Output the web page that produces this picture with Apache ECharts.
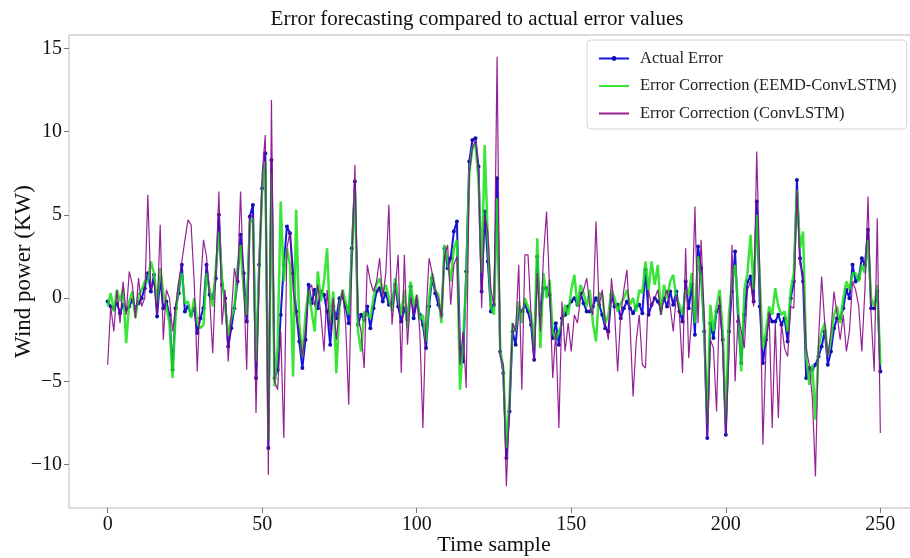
<!DOCTYPE html>
<html>
<head>
<meta charset="utf-8">
<script src="https://cdn.jsdelivr.net/npm/echarts@6/dist/echarts.min.js"></script>
<style>html,body{margin:0;padding:0;background:#fff}#c{width:910px;height:558px}</style>
</head>
<body>
<div id="c"></div>
<script>
var xTicks = [0, 50, 100, 150, 200, 250];
var yTicks = [-10, -5, 0, 5, 10, 15];

var actualError = [
-0.2,-0.5,-0.6,-0.3,-0.9,-0.4,-0.7,-0.5,-0.1,-0.6,
-0.3,0.0,0.6,1.5,0.4,1.4,-1.1,1.2,-0.6,-0.2,
-1.0,-4.3,-0.6,0.3,2.0,-0.8,-0.5,-1.0,-0.6,-2.1,
-1.2,-0.6,2.0,0.2,0.0,1.2,5.0,0.8,0.0,-2.9,
-1.8,-0.6,1.0,3.8,1.5,-1.4,4.9,5.6,-4.8,2.0,
6.6,8.7,-9.0,8.3,-4.8,-4.3,-1.0,2.0,4.3,3.9,
1.5,-0.8,-2.6,-4.2,-2.5,0.8,-0.3,0.5,-0.6,0.4,
0.2,-0.8,-2.8,-0.5,-1.2,0.0,0.1,-0.5,-1.5,3.0,
7.0,-1.6,-1.0,-1.3,-0.5,-1.8,-0.6,0.4,0.6,-0.2,
0.3,-0.4,-0.3,0.8,-0.5,-1.4,-0.6,-1.3,0.7,-1.2,
-0.2,-1.0,-1.6,-3.0,-0.5,1.2,0.3,-0.4,-1.0,3.0,
1.8,2.4,4.0,4.6,-3.0,-3.8,1.6,8.2,9.5,9.6,
7.9,0.4,5.2,2.2,-0.8,-0.4,7.2,-3.2,-4.5,-9.6,
-6.8,-2.0,-2.8,-0.6,-0.8,-0.4,-0.8,-1.6,-3.7,2.5,
-1.0,0.6,0.6,0.2,-2.4,-1.5,-2.8,-1.2,-1.0,-0.5,
-0.2,0.0,-0.4,0.3,-0.3,-0.8,-0.8,-0.5,0.0,-0.4,
-1.0,-1.8,-2.0,0.2,-0.5,-0.4,-1.2,-0.6,-0.2,-0.6,
-0.9,-0.5,-0.4,-0.9,1.7,-1.0,-0.4,0.0,-0.2,-0.6,
0.0,-0.5,0.4,-0.4,0.4,-0.8,-1.4,1.0,-0.6,0.8,
-2.2,3.1,1.8,-2.0,-8.4,-1.5,-2.4,-0.8,-0.5,-2.5,
-8.2,-2.0,0.4,2.8,-1.4,-3.9,-1.0,1.0,1.3,-0.2,
5.8,-0.5,-3.9,-2.5,-1.0,-1.4,-1.4,-1.0,-1.6,-1.2,
-2.6,0.0,1.0,7.1,2.4,1.0,-4.8,-4.2,-4.3,-4.0,
-3.5,-2.9,-2.0,-4.0,-3.2,-1.8,-1.2,-1.2,-0.6,0.5,
0.0,2.0,1.0,1.2,2.4,2.0,4.1,-0.6,-0.6,0.4,
-4.4];

var eemdConvLSTM = [
-0.5,0.3,-0.8,0.5,-0.2,0.6,-2.7,-0.2,0.4,-1.2,
0.2,0.5,1.0,1.0,2.2,1.5,-0.3,1.8,0.3,-0.5,
-1.5,-4.8,-1.0,0.8,1.5,-0.3,-0.2,-1.2,0.0,-1.5,
-1.8,-1.6,1.5,0.5,-0.5,1.8,4.0,1.2,-0.5,-2.2,
-1.2,-0.6,1.8,3.2,0.5,-1.0,4.5,4.8,-3.8,1.5,
6.6,8.2,-8.5,7.5,-5.3,-3.0,5.8,1.0,3.0,2.0,
-4.7,5.3,-1.5,-3.5,-1.0,0.5,-0.8,-2.0,1.6,-0.2,
1.0,3.0,-1.5,0.4,-4.5,-0.5,0.5,-0.2,-1.0,2.5,
6.5,-2.0,-3.2,-0.8,-1.0,-1.2,0.0,0.8,1.2,0.3,
0.8,0.0,-0.8,1.2,0.0,-1.0,0.5,-1.8,1.0,-0.5,
0.2,-1.3,-1.0,-2.6,0.0,1.5,0.5,0.2,-1.5,3.2,
2.2,1.0,3.0,3.5,-5.5,-2.5,1.0,7.5,9.0,9.3,
7.0,1.5,9.2,3.5,-0.5,-1.0,6.0,-3.0,-4.2,-9.0,
-6.0,-1.5,-2.0,-0.2,-1.5,0.0,-0.5,-1.0,-3.0,3.6,
-3.0,1.5,0.0,1.1,-2.0,-2.5,-2.0,-1.5,-0.4,-1.0,
0.5,1.4,-0.5,0.8,0.3,-0.5,0.5,-1.5,-2.6,0.3,
0.2,-1.5,-1.0,0.5,0.0,-0.8,-0.3,0.0,0.5,-0.4,
0.0,-0.8,0.5,0.3,2.2,0.5,2.2,0.8,2.0,-1.0,
0.8,0.0,1.0,1.4,0.0,-0.4,-1.0,0.5,0.2,1.5,
-1.5,2.5,1.2,-1.5,-7.5,-0.4,-2.0,-0.5,0.5,-2.0,
-7.5,-1.0,1.0,2.0,-0.5,-4.4,0.5,1.5,3.8,0.5,
5.0,1.0,-3.0,-2.0,-0.5,-1.0,0.6,-0.5,-1.0,-0.8,
-2.0,0.5,1.5,6.5,3.0,4.0,-3.5,-5.2,-4.0,-7.3,
-3.0,-2.0,-1.5,-3.5,-2.5,-1.0,-0.5,-1.5,0.0,1.0,
0.5,1.5,1.5,1.0,2.0,1.5,3.5,0.0,-0.5,0.8,
-4.0];

var convLSTM = [
-4.0,-0.5,-2.0,0.5,-1.5,1.0,-1.0,1.6,0.8,-1.2,
1.2,-0.5,0.0,6.2,0.5,1.0,-1.0,4.4,-2.5,0.5,
0.0,-2.0,-0.5,1.0,2.2,3.5,4.7,4.4,1.0,-4.4,
0.5,3.5,2.5,0.0,-3.3,1.5,6.4,-1.6,0.5,-3.8,
-1.0,1.8,0.8,6.4,1.0,-4.3,4.9,5.0,-6.9,1.0,
7.5,9.8,-10.6,11.9,-5.0,-5.5,-2.0,-8.4,3.0,4.0,
0.5,-1.0,-2.0,-3.5,-2.0,0.5,0.8,-0.5,0.8,-1.0,
-3.2,0.5,-2.0,0.0,-2.5,-0.5,0.5,-1.5,-6.4,2.0,
8.0,-1.0,-2.0,-4.2,2.0,1.0,0.4,1.0,2.4,0.0,
1.5,5.6,-1.6,0.5,2.6,-4.5,2.6,-2.8,0.0,-1.0,
0.2,-2.0,-7.8,-1.0,2.4,1.5,0.5,0.0,-1.2,2.5,
3.2,-0.4,2.0,2.5,-4.0,-2.0,-5.4,7.5,9.0,9.5,
7.5,-0.6,5.0,4.0,0.5,-0.5,14.5,-3.5,-4.0,-11.3,
-6.5,-1.5,-2.0,2.0,-5.5,2.6,2.6,-1.0,-3.8,1.5,
-2.0,2.5,5.2,0.5,-4.8,-2.0,-7.8,-0.2,-3.2,-1.5,
-3.2,-1.0,-1.5,0.0,0.5,1.2,-0.5,-1.0,4.6,-0.5,
0.5,-1.5,-2.5,1.2,-0.8,-4.4,-1.0,0.5,1.7,-1.5,
-5.9,-2.6,-1.0,-4.0,-4.2,0.5,-0.5,0.0,0.5,-1.0,
0.0,0.5,-0.5,-2.0,0.2,-1.0,-4.5,3.0,-3.6,-1.0,
5.5,-1.5,3.5,-1.0,-8.4,-2.5,-3.0,-6.8,0.1,-3.0,
-8.2,-3.5,3.2,-5.0,-1.0,-2.0,-3.0,0.5,1.0,-0.5,
8.8,1.5,-8.8,-3.0,-0.8,-7.8,-1.5,-7.2,-1.5,-3.0,
-3.5,-0.5,-0.6,6.5,2.0,1.5,-3.0,-4.0,-6.0,-10.7,
-2.5,1.3,-1.5,-3.5,-2.0,0.4,-1.0,-2.5,-1.0,-3.2,
-2.0,1.0,0.5,-0.5,-3.2,0.5,6.1,-1.0,-4.4,4.8,
-8.1];

function pairs(arr){ return arr.map(function(v,i){ return [i, v]; }); }

var FONT = "'Liberation Serif', 'Times New Roman', serif";
var chart = echarts.init(document.getElementById('c'), null, {renderer:'canvas'});
chart.setOption({
  animation: false,
  backgroundColor: '#fff',
  title: {
    text: 'Error forecasting compared to actual error values',
    left: 472, top: 4, textAlign: 'center',
    textStyle: {fontFamily: FONT, fontSize: 21, fontWeight: 'normal', color: '#111'}
  },
  grid: {left: 69, right: -9, top: 35, bottom: 50, show: true, borderColor: '#b8b8b8', borderWidth: 1,
         containLabel: false, outerBoundsMode: 'none'},
  legend: {
    orient: 'vertical', left: 587, top: 40,
    itemWidth: 30, itemHeight: 6, itemGap: 8.5,
    padding: [9, 10, 6, 11],
    backgroundColor: '#fff', borderColor: '#d4d4d4', borderWidth: 1, borderRadius: 4,
    textStyle: {fontFamily: FONT, fontSize: 16.5, color: '#222', padding: [0,0,0,6], lineHeight: 19},
    data: [
      {name: 'Actual Error'},
      {name: 'Error Correction (EEMD-ConvLSTM)', itemStyle: {opacity: 0}},
      {name: 'Error Correction (ConvLSTM)', itemStyle: {opacity: 0}}
    ]
  },
  xAxis: {
    type: 'value', min: -12.5, max: 262.5,
    name: 'Time sample', nameLocation: 'middle', nameGap: 26, nameMoveOverlap: false,
    nameTextStyle: {fontFamily: FONT, fontSize: 22, color: '#111'},
    axisLine: {show: false, onZero: false},
    axisTick: {show: true, length: 5, inside: false, lineStyle: {color: '#777'}, customValues: xTicks},
    axisLabel: {fontFamily: FONT, fontSize: 20, color: '#111', margin: 7, customValues: xTicks},
    splitLine: {show: false}
  },
  yAxis: {
    type: 'value', min: -12.6, max: 15.8,
    name: 'Wind power (KW)', nameLocation: 'middle', nameGap: 34, nameRotate: 90, nameMoveOverlap: false,
    nameTextStyle: {fontFamily: FONT, fontSize: 23, color: '#111'},
    axisLine: {show: false, onZero: false},
    axisTick: {show: true, length: 5, inside: false, lineStyle: {color: '#777'}, customValues: yTicks},
    axisLabel: {fontFamily: FONT, fontSize: 20, color: '#111', margin: 7, customValues: yTicks,
      formatter: function(v){ return String(v).replace('-', '\u2212'); }},
    splitLine: {show: false}
  },
  series: [
    {name: 'Actual Error', type: 'line', data: pairs(actualError),
     symbol: 'circle', symbolSize: 4, showSymbol: true,
     lineStyle: {color: '#1515e0', width: 2}, itemStyle: {color: '#1010b0'}, z: 2},
    {name: 'Error Correction (EEMD-ConvLSTM)', type: 'line', data: pairs(eemdConvLSTM),
     symbol: 'none', lineStyle: {color: '#18e018', width: 2.5, opacity: 0.85}, itemStyle: {color: '#18e018'}, z: 3},
    {name: 'Error Correction (ConvLSTM)', type: 'line', data: pairs(convLSTM),
     symbol: 'none', lineStyle: {color: '#8a0a8a', width: 1.2, opacity: 0.9}, itemStyle: {color: '#8a0a8a'}, z: 4}
  ]
});
</script>
</body>
</html>
